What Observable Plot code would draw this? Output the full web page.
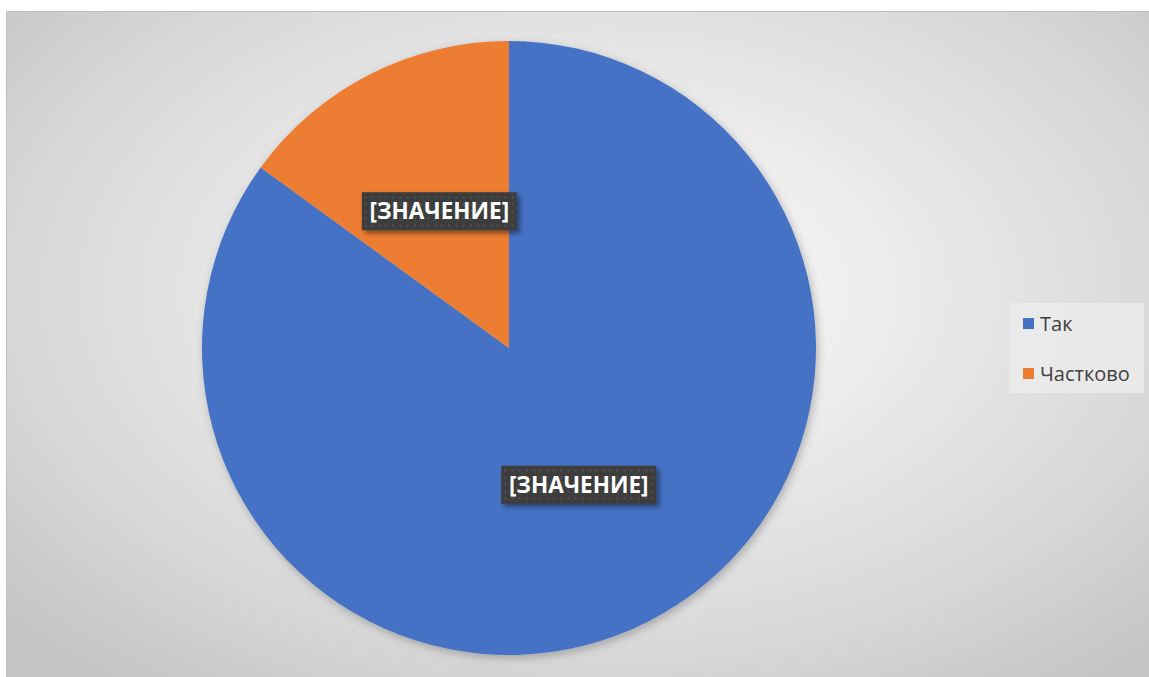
<!DOCTYPE html>
<html>
<head>
<meta charset="utf-8">
<script src="https://cdn.jsdelivr.net/npm/d3@7"></script>
<script src="https://cdn.jsdelivr.net/npm/@observablehq/plot@0.6"></script>
<style>
  html, body { margin: 0; padding: 0; background: #fff; }
  #chart {
    position: absolute; left: 6px; top: 11px; width: 1143px; height: 666px;
    border-top: 1px solid #c0c0c0; border-left: 1px solid #c0c0c0;
    background: radial-gradient(ellipse 70% 75% at 52% 42%, #ffffff 0%, #f2f2f2 25%, #d6d6d6 75%, #c4c4c4 100%);
    overflow: hidden;
  }
  #chart svg { position: absolute; left: 0; top: 0; background: transparent; }
  #legend {
    position: absolute; left: 1002px; top: 291px; width: 135px; height: 90px;
    background: rgba(235,235,235,0.85);
    font-family: "Open Sans", "Noto Sans", sans-serif; font-size: 20px; color: #404040;
  }
  .item { position: absolute; left: 14px; display: flex; align-items: center; }
  .sw { width: 11px; height: 11px; margin-right: 6px; }
</style>
</head>
<body>
<div id="chart"></div>
<script>
const categories = ["Так", "Частково"];
const values = [85, 15];
const labels = ["[ЗНАЧЕНИЕ]", "[ЗНАЧЕНИЕ]"];
const colors = ["#4472C4", "#ED7D31"];

const data = categories.map((c, i) => ({category: c, value: values[i], label: labels[i]}));

const W = 1143, H = 666;
const cx = 502, cy = 336, R = 307;

const pie = d3.pie().value(d => d.value).sort(null);
const arcs = pie(data);

function pieMark(index, scales, channels, dims, context) {
  const g = d3.create("svg:g");
  const ox = scales.x(0), oy = scales.y(0);
  const r = scales.x(1) - scales.x(0);
  const arcGen = d3.arc().innerRadius(0).outerRadius(r);
  const defs = g.append("defs");
  const pat = defs.append("pattern").attr("id", "dots").attr("width", 7).attr("height", 7)
    .attr("patternUnits", "userSpaceOnUse");
  pat.append("rect").attr("width", 7).attr("height", 7).attr("fill", "#3d3d3d");
  pat.append("circle").attr("cx", 3.5).attr("cy", 3.5).attr("r", 1.3).attr("fill", "#4d4d4d");
  const f = defs.append("filter").attr("id", "sh").attr("x", "-20%").attr("y", "-30%").attr("width", "150%").attr("height", "180%");
  f.append("feDropShadow").attr("dx", 3).attr("dy", 3).attr("stdDeviation", 2.5)
    .attr("flood-color", "#000").attr("flood-opacity", 0.45);
  const pf = defs.append("filter").attr("id", "psh").attr("x", "-10%").attr("y", "-10%").attr("width", "120%").attr("height", "120%");
  pf.append("feDropShadow").attr("dx", 2).attr("dy", 3).attr("stdDeviation", 4)
    .attr("flood-color", "#000").attr("flood-opacity", 0.25);
  const pg = g.append("g").attr("transform", `translate(${ox},${oy})`).attr("filter", "url(#psh)");
  pg.selectAll("path").data(arcs).join("path")
    .attr("d", arcGen)
    .attr("fill", (d, i) => scales.color(d.data.category));
  const lg = g.append("g").attr("transform", `translate(${ox},${oy})`);
  const cen = d3.arc().innerRadius(0).outerRadius(r);
  arcs.forEach(a => {
    const [lx, ly] = cen.centroid(a);
    const bw = 155, bh = 38;
    lg.append("rect").attr("x", lx - bw / 2).attr("y", ly - bh / 2).attr("width", bw).attr("height", bh)
      .attr("fill", "url(#dots)").attr("filter", "url(#sh)");
    lg.append("text").attr("x", lx).attr("y", ly).attr("text-anchor", "middle").attr("dy", "0.36em")
      .attr("fill", "#fff").attr("font-weight", "bold").attr("font-size", 22.5)
      .attr("font-family", "'Open Sans', 'Noto Sans', sans-serif")
      .text(a.data.label);
  });
  return g.node();
}

const plot = Plot.plot({
  width: W, height: H,
  margin: 0,
  style: {background: "transparent"},
  x: {domain: [-1, 1], range: [cx - R, cx + R], axis: null},
  y: {domain: [-1, 1], range: [cy + R, cy - R], axis: null},
  color: {domain: categories, range: colors},
  marks: [pieMark]
});
document.getElementById("chart").appendChild(plot);

const legend = document.createElement("div");
legend.id = "legend";
data.forEach((d, i) => {
  const it = document.createElement("div");
  it.className = "item";
  it.style.top = (i === 0 ? 7 : 57) + "px";
  const sw = document.createElement("div");
  sw.className = "sw"; sw.style.background = colors[i];
  const tx = document.createElement("span"); tx.textContent = d.category;
  it.appendChild(sw); it.appendChild(tx);
  legend.appendChild(it);
});
document.getElementById("chart").appendChild(legend);
</script>
</body>
</html>
